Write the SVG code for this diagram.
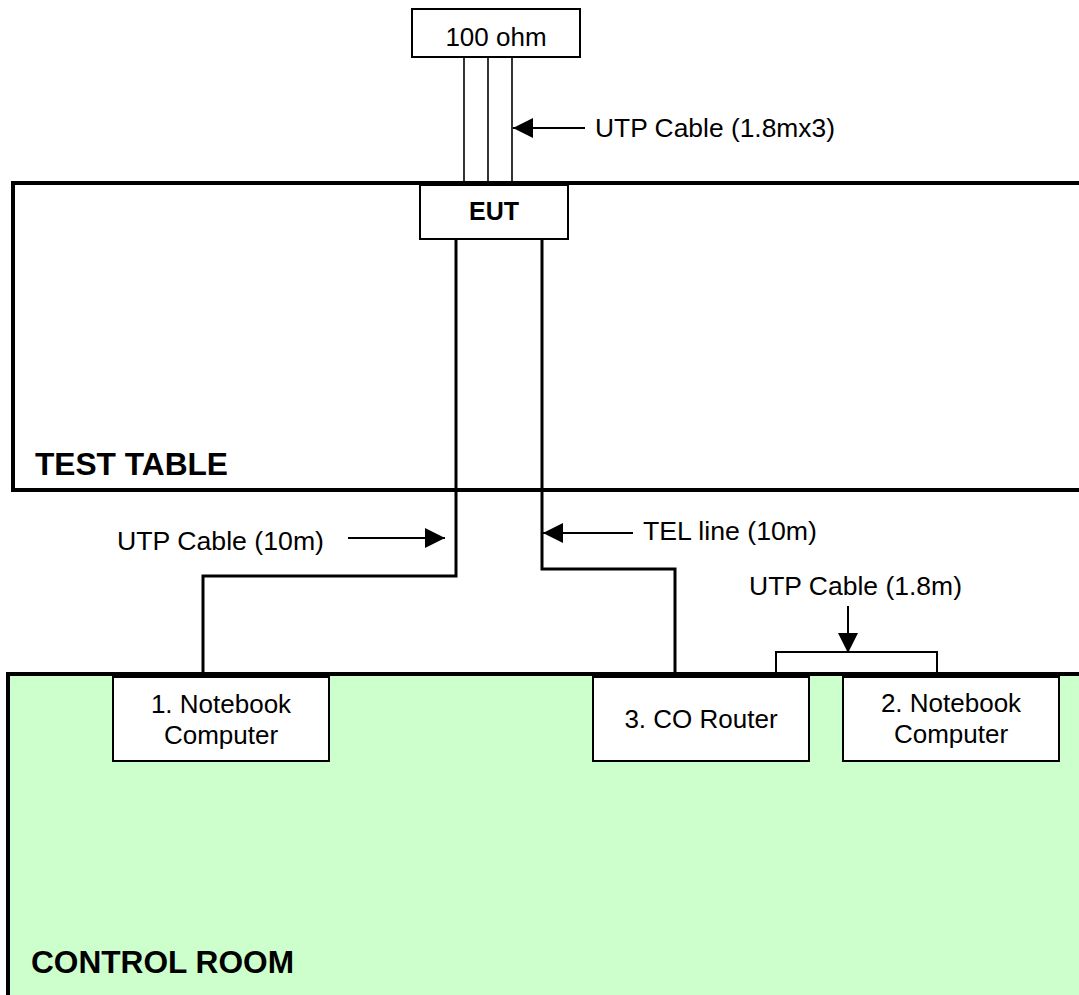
<svg xmlns="http://www.w3.org/2000/svg" width="1079" height="995" viewBox="0 0 1079 995">
<style>
text{font-family:"Liberation Sans",Arial,sans-serif;fill:#000}
.t{font-size:26px}
.b{font-size:25px;font-weight:bold}
.big{font-size:32px;font-weight:bold}
.box{fill:#fff;stroke:#000;stroke-width:2}
.thin{fill:none;stroke:#000;stroke-width:1.6}
.wire{fill:none;stroke:#000;stroke-width:3}
.lead{fill:none;stroke:#000;stroke-width:2}
</style>
<defs>
<marker id="ah" markerUnits="userSpaceOnUse" markerWidth="20" markerHeight="20" viewBox="0 0 20 20" refX="20" refY="10" orient="auto">
<path d="M0,0 L20,10 L0,20 Z" fill="#000"/>
</marker>
</defs>
<rect width="1079" height="995" fill="#fff"/>
<g id="test-table">
<rect x="13" y="183" width="1100" height="307" fill="#fff" stroke="#000" stroke-width="4"/>
<text class="big" x="35" y="475" textLength="193" lengthAdjust="spacingAndGlyphs">TEST TABLE</text>
</g>
<g id="control-room">
<rect x="8" y="674" width="1100" height="340" fill="#CCFFCC" stroke="#000" stroke-width="4"/>
<text class="big" x="31" y="973" textLength="263" lengthAdjust="spacingAndGlyphs">CONTROL ROOM</text>
</g>
<g id="connectors">
<line class="thin" x1="464" y1="57" x2="464" y2="182"/>
<line class="thin" x1="488" y1="57" x2="488" y2="182"/>
<line class="thin" x1="512" y1="57" x2="512" y2="182"/>
<polyline class="wire" points="456,239 456,576 203,576 203,673"/>
<polyline class="wire" points="542,239 542,569 675,569 675,673"/>
<polyline class="lead" points="776,673 776,652 937,652 937,673"/>
<line class="lead" x1="585" y1="128" x2="513" y2="128" marker-end="url(#ah)"/>
<line class="lead" x1="348" y1="538" x2="445" y2="538" marker-end="url(#ah)"/>
<line class="lead" x1="633" y1="533" x2="543" y2="533" marker-end="url(#ah)"/>
<line class="lead" x1="848" y1="606" x2="848" y2="653" marker-end="url(#ah)"/>
</g>
<g id="labels">
<text class="t" x="595" y="137" textLength="240" lengthAdjust="spacingAndGlyphs">UTP Cable (1.8mx3)</text>
<text class="t" x="117" y="550" textLength="207" lengthAdjust="spacingAndGlyphs">UTP Cable (10m)</text>
<text class="t" x="643" y="540" textLength="174" lengthAdjust="spacingAndGlyphs">TEL line (10m)</text>
<text class="t" x="749" y="595" textLength="213" lengthAdjust="spacingAndGlyphs">UTP Cable (1.8m)</text>
</g>
<g id="resistor">
<rect class="box" x="412" y="9" width="168" height="48"/>
<text class="t" x="496" y="46" text-anchor="middle">100 ohm</text>
</g>
<g id="eut">
<rect class="box" x="420" y="185" width="148" height="54"/>
<text class="b" x="494" y="220" text-anchor="middle">EUT</text>
</g>
<g id="notebook1">
<rect class="box" x="113" y="677" width="216" height="84"/>
<text class="t" x="221" y="713" text-anchor="middle">1. Notebook</text>
<text class="t" x="221" y="744" text-anchor="middle">Computer</text>
</g>
<g id="co-router">
<rect class="box" x="593" y="677" width="216" height="84"/>
<text class="t" x="701" y="728" text-anchor="middle">3. CO Router</text>
</g>
<g id="notebook2">
<rect class="box" x="843" y="677" width="216" height="84"/>
<text class="t" x="951" y="712" text-anchor="middle">2. Notebook</text>
<text class="t" x="951" y="743" text-anchor="middle">Computer</text>
</g>
</svg>
